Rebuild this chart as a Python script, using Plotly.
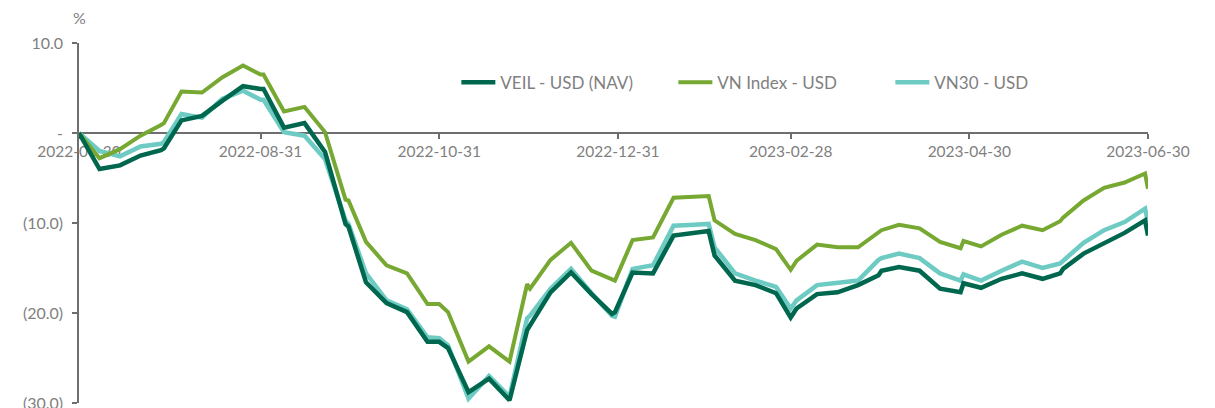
import plotly.graph_objects as go

dates = [
    "2022-06-30",
    "2022-07-07", "2022-07-14", "2022-07-21", "2022-07-28", "2022-07-29",
    "2022-08-04", "2022-08-11", "2022-08-18", "2022-08-25", "2022-08-31", "2022-09-01",
    "2022-09-08", "2022-09-15", "2022-09-22", "2022-09-29", "2022-09-30",
    "2022-10-06", "2022-10-13", "2022-10-20", "2022-10-27", "2022-10-31",
    "2022-11-03", "2022-11-10", "2022-11-17", "2022-11-24", "2022-11-30",
    "2022-12-01", "2022-12-08", "2022-12-15", "2022-12-22", "2022-12-29", "2022-12-30",
    "2023-01-05", "2023-01-12", "2023-01-19", "2023-01-26", "2023-01-31",
    "2023-02-02", "2023-02-09", "2023-02-16", "2023-02-23", "2023-02-28",
    "2023-03-02", "2023-03-09", "2023-03-16", "2023-03-23", "2023-03-30", "2023-03-31",
    "2023-04-06", "2023-04-13", "2023-04-20", "2023-04-27", "2023-04-28",
    "2023-05-04", "2023-05-11", "2023-05-18", "2023-05-25", "2023-05-31",
    "2023-06-01", "2023-06-08", "2023-06-15", "2023-06-22", "2023-06-29", "2023-06-30",
]

veil_usd_nav = [
    0.0,
    -4.0, -3.6, -2.5, -1.9, -1.7,
    1.4, 1.9, 3.6, 5.2, 4.9, 4.9,
    0.6, 1.1, -2.1, -10.1, -10.4,
    -16.6, -18.9, -19.9, -23.2, -23.2,
    -23.9, -28.8, -27.3, -29.7, -21.9,
    -21.4, -17.7, -15.5, -17.9, -20.1, -19.9,
    -15.5, -15.6, -11.4, -11.1, -10.9,
    -13.6, -16.4, -16.9, -17.8, -20.5,
    -19.5, -17.9, -17.7, -16.9, -15.8, -15.3,
    -14.9, -15.3, -17.3, -17.7, -16.7,
    -17.2, -16.2, -15.6, -16.2, -15.6,
    -15.1, -13.4, -12.2, -11.1, -9.7, -11.4,
]

vn_index_usd = [
    0.0,
    -2.8, -1.8, -0.3, 0.9, 1.1,
    4.6, 4.5, 6.2, 7.5, 6.5, 6.5,
    2.4, 2.9, 0.1, -7.4, -7.5,
    -12.1, -14.7, -15.6, -19.0, -19.0,
    -19.9, -25.4, -23.7, -25.4, -16.8,
    -17.3, -14.1, -12.2, -15.3, -16.3, -16.4,
    -11.9, -11.6, -7.2, -7.1, -7.0,
    -9.7, -11.2, -11.9, -12.9, -15.2,
    -14.2, -12.4, -12.7, -12.7, -11.0, -10.8,
    -10.2, -10.6, -12.1, -12.8, -12.0,
    -12.6, -11.3, -10.3, -10.8, -9.8,
    -9.4, -7.5, -6.1, -5.5, -4.5, -6.2,
]

vn30_usd = [
    0.0,
    -2.0, -2.6, -1.5, -1.2, -1.0,
    2.1, 1.7, 3.8, 4.7, 3.7, 3.7,
    0.1, -0.3, -2.9, -9.7, -10.1,
    -15.6, -18.6, -19.6, -22.7, -22.8,
    -23.6, -29.5, -27.0, -29.3, -20.6,
    -20.3, -17.3, -15.1, -17.8, -20.3, -20.4,
    -15.1, -14.7, -10.3, -10.2, -10.1,
    -12.7, -15.6, -16.4, -17.1, -19.5,
    -18.6, -16.9, -16.7, -16.4, -14.1, -13.9,
    -13.4, -13.9, -15.6, -16.4, -15.7,
    -16.4, -15.3, -14.3, -15.0, -14.5,
    -14.2, -12.2, -10.8, -9.9, -8.4, -9.9,
]

x_tick_vals = ["2022-06-30", "2022-08-31", "2022-10-31", "2022-12-31",
               "2023-02-28", "2023-04-30", "2023-06-30"]
x_tick_text = ["2022-06-30", "2022-08-31", "2022-10-31", "2022-12-31",
               "2023-02-28", "2023-04-30", "2023-06-30"]
y_tick_vals = [10, 0, -10, -20, -30]
y_tick_text = ["10.0", "-", "(10.0)", "(20.0)", "(30.0)"]

C_VEIL = "#00674F"
C_VNI = "#76A832"
C_VN30 = "#6DCBC4"
GREY_TXT = "#7F7F7F"
GREY_AX = "#6E6E6E"
FONT = "Lato"

fig = go.Figure()
fig.add_trace(go.Scatter(x=dates, y=vn30_usd, name="VN30 - USD", mode="lines",
                         line=dict(color=C_VN30, width=4.5), legendrank=3))
fig.add_trace(go.Scatter(x=dates, y=vn_index_usd, name="VN Index - USD", mode="lines",
                         line=dict(color=C_VNI, width=4), legendrank=2))
fig.add_trace(go.Scatter(x=dates, y=veil_usd_nav, name="VEIL - USD (NAV)", mode="lines",
                         line=dict(color=C_VEIL, width=4.5), legendrank=1))

fig.update_layout(
    width=1207, height=400,
    margin=dict(l=71, r=67, t=35, b=5, autoexpand=False),
    plot_bgcolor="white", paper_bgcolor="white",
    font=dict(family=FONT, size=16, color=GREY_TXT),
    showlegend=True,
    legend=dict(orientation="h", x=0.353, xanchor="left", y=0.89, yanchor="middle",
                font=dict(family=FONT, size=17, color=GREY_TXT),
                bgcolor="rgba(0,0,0,0)", entrywidth=168, itemwidth=34),
    xaxis=dict(type="date", range=["2022-06-30", "2023-06-30"],
               anchor="free", position=0.75, automargin=False,
               showline=True, linecolor=GREY_AX, linewidth=1.5,
               ticks="outside", ticklen=5, tickcolor=GREY_AX, tickwidth=1.5,
               tickvals=x_tick_vals, ticktext=x_tick_text,
               showgrid=False, zeroline=False, layer="below traces",
               tickfont=dict(family=FONT, size=15.5, color=GREY_TXT)),
    yaxis=dict(range=[-30, 10], showline=True, linecolor=GREY_AX, linewidth=1.5,
               automargin=False,
               ticks="outside", ticklen=5, tickcolor=GREY_AX, tickwidth=1.5,
               tickvals=y_tick_vals, ticktext=y_tick_text,
               showgrid=False, zeroline=False, ticklabelstandoff=6,
               ticklabeloverflow="allow",
               tickfont=dict(family=FONT, size=16, color=GREY_TXT)),
)

fig.add_annotation(text="%", xref="paper", yref="paper", x=0, y=1,
                   xanchor="center", yanchor="bottom", yshift=14, showarrow=False,
                   font=dict(family=FONT, size=16, color=GREY_TXT))

fig.write_html("out.html")
